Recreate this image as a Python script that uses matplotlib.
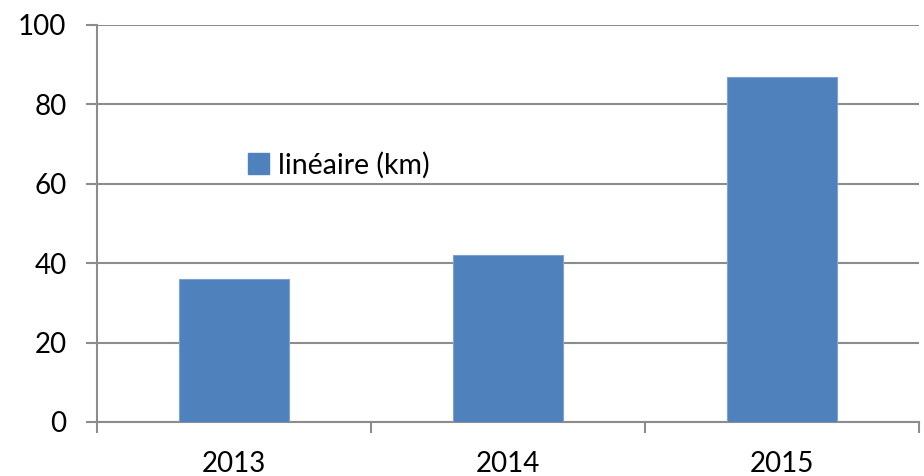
import matplotlib
matplotlib.use("Agg")
import matplotlib.pyplot as plt
from matplotlib.patches import Patch

categories = ["2013", "2014", "2015"]
values = [36, 42, 87]
series_name = "linéaire (km)"
yticks = [0, 20, 40, 60, 80, 100]

plt.rcParams['font.family'] = ['Lato', 'DejaVu Sans']
fig = plt.figure(figsize=(9.24, 4.76), dpi=100)
ax = fig.add_axes([97/924, 1-422/476, 822/924, 397/476])

x = list(range(len(categories)))
ax.bar(x, values, width=0.4, color="#4F81BD", edgecolor="#7FA3D1", linewidth=0.8, zorder=3)
ax.set_xlim(-0.5, len(categories)-0.5)
ax.set_ylim(0, 100)
ax.set_yticks(yticks)
ax.set_yticklabels([str(v) for v in yticks], fontsize=20)
ax.yaxis.grid(True, color="#8C8C8C", linewidth=1.5, zorder=0)
ax.set_xticks(x)
ax.set_xticklabels(categories, fontsize=20)
ax.set_xticks([i - 0.5 for i in range(len(categories)+1)], minor=True)
ax.tick_params(axis='x', which='major', length=0, pad=21)
ax.tick_params(axis='x', which='minor', length=8, width=1.5, color="#8C8C8C", direction='out')
ax.tick_params(axis='y', length=8, width=1.5, color="#8C8C8C", pad=14)
for s in ['top', 'right']:
    ax.spines[s].set_visible(False)
for s in ['left', 'bottom']:
    ax.spines[s].set_color("#8C8C8C")
    ax.spines[s].set_linewidth(1.5)

handle = Patch(facecolor="#4F81BD", edgecolor="#4F81BD")
fig.legend([handle], [series_name], loc='center left', bbox_to_anchor=(222/924, 1-165/476),
           frameon=False, fontsize=20.5, handlelength=0.75, handleheight=0.75, handletextpad=0.3)

fig.savefig("out.png", dpi=100)
